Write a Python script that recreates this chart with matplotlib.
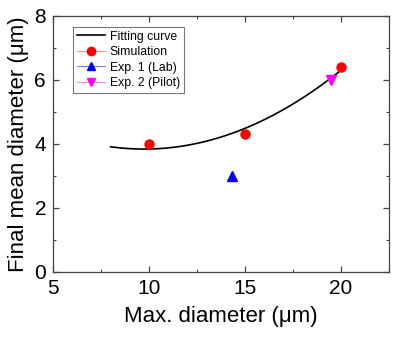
import numpy as np
import matplotlib
matplotlib.use("Agg")
import matplotlib.pyplot as plt
from matplotlib.lines import Line2D
from matplotlib.ticker import MultipleLocator

plt.rcParams['font.family'] = ['Liberation Sans', 'DejaVu Sans']

# Simulated and experimental points
sim_x = [10, 15, 20]
sim_y = [4.0, 4.3, 6.4]
exp1_x = [14.3]
exp1_y = [3.0]
exp2_x = [19.5]
exp2_y = [6.0]

# Readings along the fitted curve (quadratic trend)
fit_x = [8, 10, 15.78, 17.34, 20]
fit_y = [3.92, 3.83, 4.72, 5.17, 6.31]

coef = np.polyfit(fit_x, fit_y, 2)
xx = np.linspace(min(fit_x), max(fit_x), 200)
yy = np.polyval(coef, xx)

fig = plt.figure(figsize=(4.0, 3.46), dpi=100)
ax = fig.add_axes([0.1325, 0.2139, 0.84, 0.7399])

ax.plot(xx, yy, color='black', lw=1.2)
ax.plot(sim_x, sim_y, 'o', color='red', ms=6.5, mec='red')
ax.plot(exp1_x, exp1_y, '^', color='blue', ms=6.5)
ax.plot(exp2_x, exp2_y, 'v', color='magenta', ms=6.5)

ax.set_xlim(5, 22.5)
ax.set_ylim(0, 8)
ax.xaxis.set_major_locator(MultipleLocator(5))
ax.xaxis.set_minor_locator(MultipleLocator(2.5))
ax.yaxis.set_major_locator(MultipleLocator(2))
ax.yaxis.set_minor_locator(MultipleLocator(1))
ax.tick_params(which='both', direction='in', top=True, right=True,
               color='#444444', labelsize=15, pad=5)
ax.tick_params(which='major', length=4, width=0.9)
ax.tick_params(which='minor', length=2.5, width=0.8)
for s in ax.spines.values():
    s.set_color('#444444')
    s.set_linewidth(0.9)

ax.set_xlabel('Max. diameter (\u03bcm)', fontsize=16, labelpad=6)
ax.set_ylabel('Final mean diameter (\u03bcm)', fontsize=16, labelpad=4)

handles = [
    Line2D([], [], color='black', lw=1.2),
    Line2D([], [], color='#ff9090', lw=0.8, marker='o', mfc='red', mec='red', ms=6),
    Line2D([], [], color='#8080ff', lw=0.8, marker='^', mfc='blue', mec='blue', ms=6),
    Line2D([], [], color='#ff80ff', lw=0.8, marker='v', mfc='magenta', mec='magenta', ms=6),
]
labels = ['Fitting curve', 'Simulation', 'Exp. 1 (Lab)', 'Exp. 2 (Pilot)']
leg = ax.legend(handles, labels, loc='upper left', bbox_to_anchor=(0.06, 0.957),
                fontsize=8.8, frameon=True, fancybox=False, edgecolor='#555555',
                handlelength=2.3, handletextpad=0.4, labelspacing=0.28,
                borderpad=0.3, borderaxespad=0)
leg.get_frame().set_linewidth(0.8)

fig.savefig('out.png', dpi=100)
